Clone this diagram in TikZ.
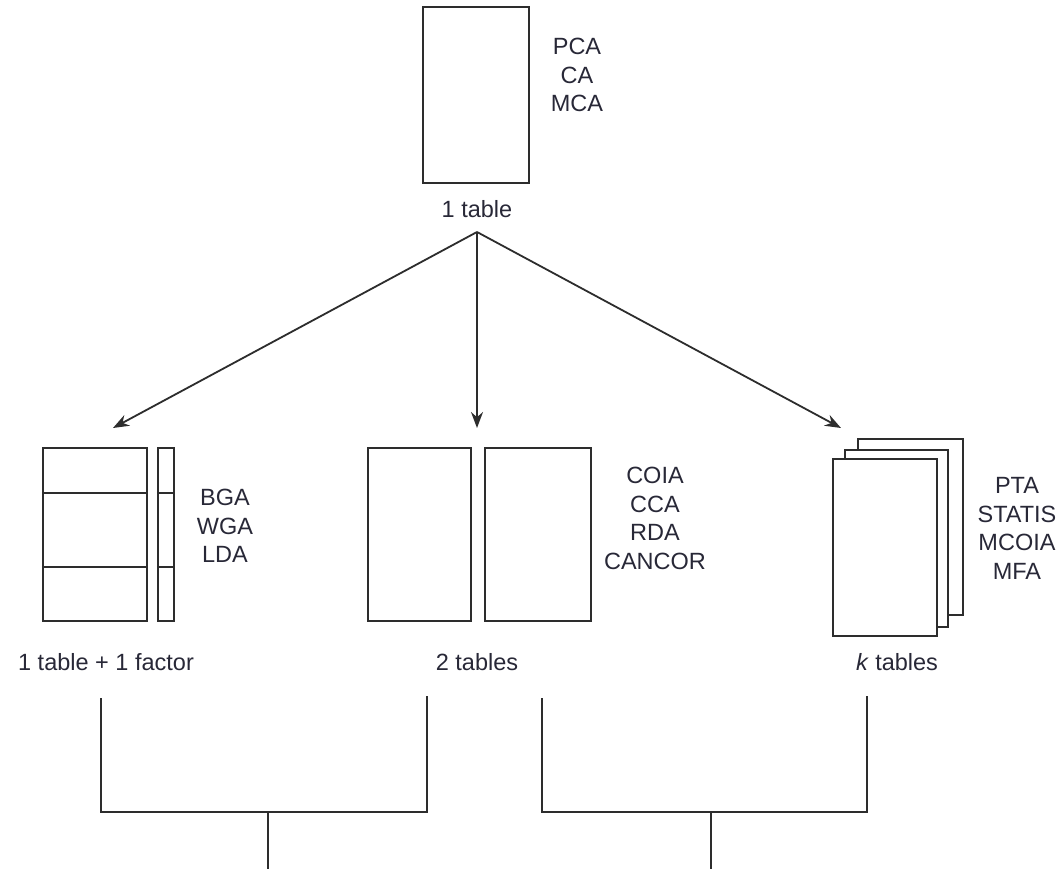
\documentclass[tikz,border=0pt]{standalone}
\usepackage{fontspec}
\setmainfont{Liberation Sans}
\usetikzlibrary{arrows.meta}
\definecolor{ink}{RGB}{45,45,45}
\definecolor{txt}{RGB}{40,40,55}
\begin{document}
\begin{tikzpicture}[x=1pt,y=-1pt,
  tbl/.style={draw=ink, line width=2.2pt, fill=white, inner sep=0pt, rectangle},
  lab/.style={font=\fontsize{23.5}{28.5}\selectfont, text=txt, align=center, inner sep=0pt},
  arr/.style={-{Stealth[length=16pt,width=12pt]}, line width=1.8pt, draw=ink},
  brk/.style={line width=2.2pt, draw=ink}]
\useasboundingbox (0,0) rectangle (1063,869);

% top table
\node[tbl, minimum width=106pt, minimum height=176pt] (t1) at (476,95) {};
\node[lab] (l1) at (577,75) {PCA\\CA\\MCA};
\node[lab] (c1) at (477,209) {1 table};
\coordinate (hub) at (477,232);

% left group: 1 table + 1 factor
\node[tbl, minimum width=104pt, minimum height=173pt] (fA) at (95,534.5) {};
\node[tbl, minimum width=16pt, minimum height=173pt] (fB) at (166,534.5) {};
\draw[ink, line width=2.2pt] (fA.west |- 0,493) -- (fA.east |- 0,493);
\draw[ink, line width=2.2pt] (fA.west |- 0,567) -- (fA.east |- 0,567);
\draw[ink, line width=2.2pt] (fB.west |- 0,493) -- (fB.east |- 0,493);
\draw[ink, line width=2.2pt] (fB.west |- 0,567) -- (fB.east |- 0,567);
\node[lab] (l2) at (225,526) {BGA\\WGA\\LDA};
\node[lab] (c2) at (106,662) {1 table + 1 factor};

% middle group: 2 tables
\node[tbl, minimum width=103pt, minimum height=173pt] (dA) at (419.5,534.5) {};
\node[tbl, minimum width=106pt, minimum height=173pt] (dB) at (538,534.5) {};
\node[lab] (l3) at (655,518.5) {COIA\\CCA\\RDA\\CANCOR};
\node[lab] (c3) at (477,662) {2 tables};

% right group: k tables
\node[tbl, minimum width=105pt, minimum height=176pt] (kC) at (910.5,527) {};
\node[tbl, minimum width=103pt, minimum height=177pt] (kB) at (896.5,538.5) {};
\node[tbl, minimum width=104pt, minimum height=177pt] (kA) at (885,547.5) {};
\node[lab] (l4) at (1017,528.5) {PTA\\STATIS\\MCOIA\\MFA};
\node[lab] (c4) at (897,662) {\textit{k} tables};

% arrows
\coordinate (tL) at (113,428);
\coordinate (tM) at (477,428);
\coordinate (tR) at (841,428);
\draw[arr] (hub) -- (tL);
\draw[arr] (hub) -- (tM);
\draw[arr] (hub) -- (tR);

% bottom brackets
\coordinate (b1) at (101,698);
\coordinate (b2) at (427,696);
\coordinate (j1) at (268,812);
\coordinate (e1) at (268,869);
\coordinate (b3) at (542,698);
\coordinate (b4) at (867,696);
\coordinate (j2) at (711,812);
\coordinate (e2) at (711,869);
\draw[brk] (b1) |- (j1) -| (b2);
\draw[brk] (j1) -- (e1);
\draw[brk] (b3) |- (j2) -| (b4);
\draw[brk] (j2) -- (e2);
\end{tikzpicture}
\end{document}
